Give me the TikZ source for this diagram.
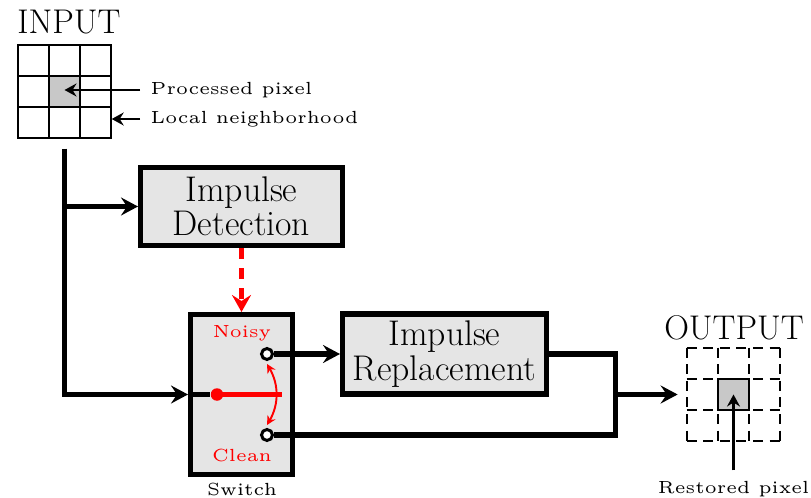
\documentclass[tikz,border=0pt]{standalone}
\usepackage{tikz}
\usetikzlibrary{arrows.meta,positioning,calc}
\definecolor{boxGray}{HTML}{E5E5E5}
\definecolor{pixGray}{HTML}{C8C8C8}
\definecolor{swRed}{HTML}{FF0000}

\begin{document}
\begin{tikzpicture}[
    blk/.style={draw=black,fill=boxGray,line width=2.85pt,minimum width=4.04cm,
                minimum height=1.56cm,align=center,inner sep=2pt,
                font=\fontsize{20.3}{19.5}\selectfont},
    cell/.style={draw=black,line width=0.8pt,minimum size=0.62cm,inner sep=0pt},
    big/.style={font=\fontsize{19.5}{20}\selectfont,inner sep=0pt},
    lbl/.style={font=\tiny,scale=2.0,inner sep=1mm},
    wire/.style={line width=2.85pt},
    arr/.style={-{Stealth[length=3.4mm,width=3.6mm,inset=1.2mm]},line width=2.85pt},
    parr/.style={-{Stealth[length=2.4mm,width=2.6mm,inset=0.8mm]},line width=1.6pt},
    rarr/.style={-{Stealth[length=3.4mm,width=3.8mm,inset=1.2mm]},swRed,line width=2.85pt,
                 dash pattern=on 0.21cm off 0.19cm},
    term/.style={circle,draw=black,fill=white,line width=1.7pt,minimum size=0.22cm,inner sep=0pt}]

  \useasboundingbox (0,0) rectangle (16.22,-9.96);

  % input window
  \node[big] (tIn) at (1.38,-0.44) {INPUT};
  \foreach \r in {0,1,2}
    \foreach \c in {0,1,2} {
      \ifnum\r\c=11 \def\cf{pixGray}\else\def\cf{white}\fi
      \node[cell,fill=\cf] (in-\r-\c) at ({0.67+0.62*\c},{-1.21-0.62*\r}) {};
    }
  \node[lbl,anchor=west] (lbP) at (2.80,-1.80) {Processed pixel};
  \node[lbl,anchor=west] (lbL) at (2.80,-2.38) {Local neighborhood};
  \draw[parr] (lbP.west) -- (lbP.west -| in-1-1.center);
  \draw[parr] (lbL.west) -- (lbL.west -| in-2-2.east);

  % blocks
  \node[blk] (det) at (4.83,-4.13) {Impulse\\Detection};
  \node[blk,minimum width=2.04cm,minimum height=3.20cm] (sw) at (4.83,-7.89) {};
  \node[blk,minimum width=4.08cm,minimum height=1.60cm] (rep) at (8.89,-7.08) {Impulse\\Replacement};

  \node[lbl,text=swRed] (tNo) at (4.84,-6.66) {Noisy};
  \node[lbl,text=swRed] (tCl) at (4.84,-9.10) {Clean};
  \node[lbl] (tSw) at (4.84,-9.79) {Switch};

  \coordinate (tr) at ($(in-2-1.south)+(0,-0.2)$);
  \coordinate (bar) at (5.64,-7.89);
  \coordinate (jn) at (12.30,-7.89);

  % output window
  \node[big] (tOut) at (14.68,-6.56) {OUTPUT};
  \node[minimum size=1.86cm,inner sep=0pt] (ogrid) at (14.67,-7.89) {};
  \foreach \k in {0,1,2,3} {
    \draw[line width=1pt,dash pattern=on 0.2cm off 0.132cm]
      ($(ogrid.north west)+(0.62*\k,0)$) -- ++(0,-1.86);
    \draw[line width=1pt,dash pattern=on 0.2cm off 0.132cm]
      ($(ogrid.north west)+(0,-0.62*\k)$) -- ++(1.86,0);
  }
  \node[cell,fill=pixGray] (opix) at (ogrid.center) {};
  \node[lbl] (lbR) at (14.67,-9.78) {Restored pixel};
  \draw[parr] (lbR.north) -- (opix.center);

  % connections
  \draw[arr] (tr) |- (sw.west);
  \draw[arr] (tr |- det.west) -- (det.west);
  \draw[rarr] (det.south) -- (sw.north);
  \node[circle,fill=swRed,minimum size=0.25cm,inner sep=0pt] (dot) at (4.34,-7.89) {};
  \draw[wire] (sw.west) -- (dot.west);
  \draw[swRed,line width=2.3pt] (dot.center) -- (bar);
  \node[term] (tn) at (5.34,-7.08) {};
  \node[term] (tc) at (5.34,-8.70) {};
  \draw[swRed,line width=1.1pt,{Stealth[length=1.8mm,width=1.8mm]}-{Stealth[length=1.8mm,width=1.8mm]}]
    ($(tn.south)+(0,-0.06)$) to[bend left=30] ($(tc.north)+(0,0.06)$);
  \draw[arr] (tn.east) -- (rep.west);
  \draw[wire] (rep.east) -| (jn);
  \draw[wire] (tc.east) -| (jn);
  \draw[arr,shorten >=0.18cm] (jn) -- (ogrid.west);
\end{tikzpicture}
\end{document}
